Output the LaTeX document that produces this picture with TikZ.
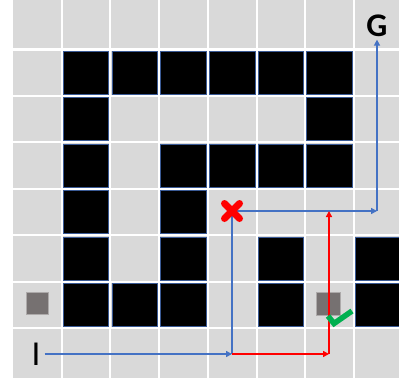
\documentclass[tikz,border=0pt]{standalone}
\usepackage{fontspec}
\setmainfont{Carlito}
\usetikzlibrary{positioning, arrows.meta, shapes.misc}
\definecolor{cellgray}{HTML}{D9D9D9}
\definecolor{wallblue}{HTML}{3A5A95}
\definecolor{pathblue}{HTML}{4472C4}
\definecolor{pathred}{HTML}{FF0000}
\definecolor{okgreen}{HTML}{00B050}
\definecolor{boxgray}{HTML}{767171}

\begin{document}
\begin{tikzpicture}[x=1pt, y=-1pt,
  wall/.style={fill=black, draw=wallblue, line width=0.7pt},
  gridline/.style={draw=white, line width=2pt},
  obstacle/.style={fill=boxgray, draw=boxgray!60, line width=0.6pt},
  bluepath/.style={draw=pathblue, line width=2pt},
  redpath/.style={draw=pathred, line width=2.3pt},
  tip/.style={-{Triangle[length=6pt, width=6pt]}},
  endlabel/.style={font=\fontsize{35}{35}\selectfont, inner sep=0pt},
  crossmark/.style={cross out, draw=pathred, line width=7pt, line cap=round, minimum size=8pt, inner sep=0pt}
]
  \useasboundingbox (0,0) rectangle (399,386);
  \clip (0,0) rectangle (399,386);
  \fill[white] (0,0) rectangle (399,386);
  \fill[cellgray] (13,0) rectangle (399,377.5);

  % walls
  \foreach \c/\r in {1/1,2/1,3/1,4/1,5/1,6/1, 1/2,6/2, 1/3,3/3,4/3,5/3,6/3,
                     1/4,3/4, 1/5,3/5,5/5,7/5, 1/6,2/6,3/6,5/6,7/6} {
    \pgfmathsetmacro{\xa}{13+48.7*\c+1.6}
    \pgfmathsetmacro{\xb}{13+48.7*(\c+1)-1.6}
    \pgfmathsetmacro{\ya}{49.5+46.42*(\r-1)+1.8}
    \pgfmathsetmacro{\yb}{49.5+46.42*\r-1.6}
    \filldraw[wall] (\xa,\ya) rectangle (\xb,\yb);
  }

  % grid
  \foreach \c in {1,...,7}
    \draw[gridline] ({13+48.7*\c},0) -- ({13+48.7*\c},377.5);
  \foreach \r in {2,...,7}
    \draw[gridline] (13,{49.5+46.42*(\r-1)}) -- (399,{49.5+46.42*(\r-1)});
  \draw[gridline, line width=3pt] (13,49.5) -- (399,49.5);

  % obstacles
  \filldraw[obstacle] (26,292) rectangle (48,314);
  \filldraw[obstacle] (316,292) rectangle (340,315);

  % labels and turning points
  \node[endlabel] (start) at (36,354) {I};
  \node[endlabel, font=\fontsize{33}{33}\selectfont\bfseries] (goal) at (377,25.5) {G};
  \coordinate (turn)    at (232,354);
  \coordinate (redturn) at (329,354);
  \coordinate (hit)     at (232,211);
  \coordinate (redtop)  at (329,211);
  \coordinate (corner)  at (377,211);

  % blue route
  \draw[bluepath, tip, shorten <=4pt] (start.east) -- (turn);
  \draw[bluepath] (turn) -- (hit);
  \draw[bluepath, tip] (hit) -- (corner);
  \draw[bluepath, tip, shorten >=3pt] (corner) -- (goal.south);

  % red route
  \draw[redpath, tip] (turn) -- (redturn);
  \draw[redpath, tip] (redturn) -- (redtop);

  \draw[okgreen, line width=5.5pt] (328,316) -- (334,323.5) -- (352,311);
  \node[crossmark] (cross) at (hit) {};
\end{tikzpicture}
\end{document}
